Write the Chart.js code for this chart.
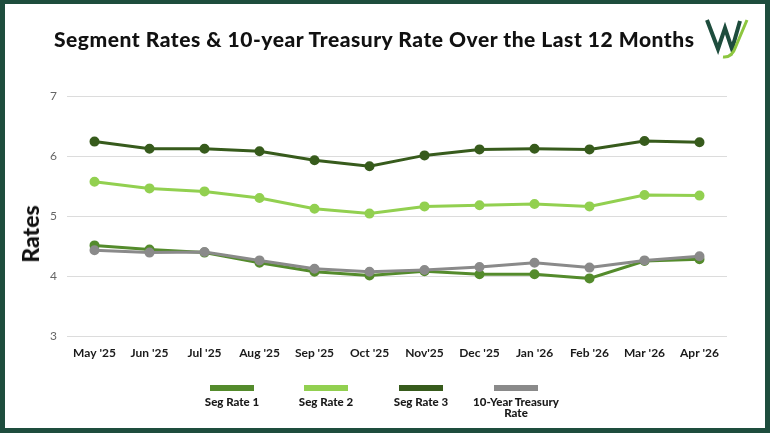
<!DOCTYPE html>
<html>
<head>
<meta charset="utf-8">
<script src="https://cdn.jsdelivr.net/npm/chart.js@4.4.1/dist/chart.umd.min.js"></script>
<style>
  body { margin: 0; background: #fff; }
  #wrap { position: absolute; left: 0; top: 0; width: 770px; height: 433px; overflow: hidden; }
  #frame { position: absolute; left: 0; top: 0; width: 770px; height: 433px; box-sizing: border-box;
           border: 5px solid #1e4d3d; border-top-width: 4px; pointer-events: none; }
  #title { position: absolute; left: 54px; top: 26px; white-space: nowrap;
           font: 900 21px Lato, sans-serif; color: #111; }
  #ytitle { position: absolute; left: 30px; top: 234px; transform: translate(-50%, -50%) rotate(-90deg);
            font: 900 23px Lato, sans-serif; color: #111; white-space: nowrap; }
  #logo { position: absolute; left: 704px; top: 16px; }
  #legend { position: absolute; top: 385px; left: 0; width: 770px; height: 40px; }
  .item { position: absolute; width: 100px; text-align: center; }
  .item .box { width: 44px; height: 6px; margin: 0 auto; }
  .item .lbl { font: 900 11.5px Lato, sans-serif; color: #1a1a1a; margin-top: 5px; line-height: 11px; }
</style>
</head>
<body>
<div id="wrap">
  <canvas id="chart" width="770" height="433"></canvas>
  <div id="title">Segment Rates &amp; 10-year Treasury Rate Over the Last 12 Months</div>
  <div id="ytitle">Rates</div>
  <svg id="logo" width="48" height="46" viewBox="0 0 48 46">
    <polyline points="3,4 14,33 21,12 28,33 36,5" fill="none" stroke="#1e4d3d" stroke-width="4" stroke-linejoin="miter"/>
    <path d="M43,4 L32,30 Q28,42 19,41" fill="none" stroke="#8dc63f" stroke-width="3"/>
  </svg>
  <div id="legend"></div>
  <div id="frame"></div>
</div>
<script>
const labels = ["May '25", "Jun '25", "Jul '25", "Aug '25", "Sep '25", "Oct '25", "Nov'25", "Dec '25", "Jan '26", "Feb '26", "Mar '26", "Apr '26"];
const segRate1 = [4.51, 4.44, 4.39, 4.22, 4.07, 4.01, 4.08, 4.03, 4.03, 3.96, 4.25, 4.28];
const segRate2 = [5.57, 5.46, 5.41, 5.30, 5.12, 5.04, 5.16, 5.18, 5.20, 5.16, 5.35, 5.34];
const segRate3 = [6.24, 6.12, 6.12, 6.08, 5.93, 5.83, 6.01, 6.11, 6.12, 6.11, 6.25, 6.23];
const treasury = [4.43, 4.39, 4.40, 4.26, 4.12, 4.07, 4.10, 4.15, 4.22, 4.14, 4.26, 4.33];

const seriesNames = ['Seg Rate 1', 'Seg Rate 2', 'Seg Rate 3', '10-Year Treasury Rate'];
const seriesColors = ['#548b2c', '#92d050', '#375b1c', '#8a8a8a'];
const legendCenters = [232, 326, 421, 516];

// stretch the title to the width it has in the reference (54..694)
const title = document.getElementById('title');
const txt = title.textContent;
const w = title.getBoundingClientRect().width;
title.style.letterSpacing = ((640 - w) / (txt.length - 1)) + 'px';

function ds(i, data, order) {
  return {
    label: seriesNames[i],
    data: data,
    borderColor: seriesColors[i],
    backgroundColor: seriesColors[i],
    borderWidth: 3,
    pointRadius: 3.5,
    pointHoverRadius: 4,
    tension: 0,
    order: order
  };
}

const chart = new Chart(document.getElementById('chart'), {
  type: 'line',
  data: {
    labels: labels,
    datasets: [ds(0, segRate1, 1), ds(1, segRate2, 2), ds(2, segRate3, 3), ds(3, treasury, 0)]
  },
  options: {
    responsive: false,
    animation: false,
    layout: { padding: { top: 96, left: 14, right: 43, bottom: 67 } },
    plugins: { legend: { display: false }, tooltip: { enabled: false } },
    scales: {
      x: {
        offset: true,
        grid: { display: false, drawTicks: false },
        border: { display: false },
        ticks: { padding: 10, color: '#1a1a1a', font: { family: 'Lato', size: 12, weight: '700' }, maxRotation: 0 },
        afterFit: s => { s.height = 30; }
      },
      y: {
        min: 3, max: 7,
        ticks: { stepSize: 1, padding: 10, color: '#666', font: { family: 'Lato', size: 12 } },
        grid: { color: '#dcdcdc', lineWidth: 1, drawTicks: false },
        border: { display: false },
        afterFit: s => { s.width = 53; }
      }
    }
  }
});

// legend built from the datasets: swatch above, name below
const legend = document.getElementById('legend');
chart.data.datasets.forEach((d, i) => {
  const el = document.createElement('div');
  el.className = 'item';
  el.style.left = (legendCenters[i] - 50) + 'px';
  const name = d.label === '10-Year Treasury Rate' ? '10-Year Treasury<br>Rate' : d.label;
  el.innerHTML = '<div class="box" style="background:' + d.borderColor + '"></div><div class="lbl">' + name + '</div>';
  legend.appendChild(el);
});
</script>
</body>
</html>
